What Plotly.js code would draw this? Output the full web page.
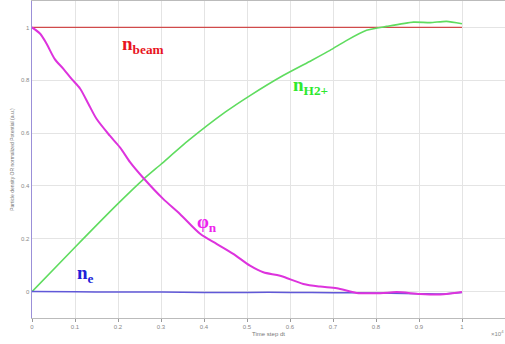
<!DOCTYPE html>
<html>
<head>
<meta charset="utf-8">
<script src="https://cdn.plot.ly/plotly-3.0.1.min.js"></script>
<style>html,body{margin:0;padding:0;background:#fff;}#chart{width:505px;height:344px;}</style>
</head>
<body>
<div id="chart"></div>
<script>
// Time step (x 10^4)
const beamX = [0, 1.0];
const beamY = [1.0, 1.0];

const h2X = [0, 0.1, 0.2, 0.259, 0.3, 0.364, 0.45, 0.507, 0.584, 0.65, 0.693, 0.732, 0.778, 0.825, 0.887, 0.926, 0.964, 1.0];
const h2Y = [0, 0.168, 0.333, 0.425, 0.482, 0.572, 0.68, 0.742, 0.818, 0.875, 0.913, 0.951, 0.989, 1.004, 1.02, 1.018, 1.023, 1.014];

const phiX = [0, 0.019, 0.034, 0.053, 0.073, 0.092, 0.112, 0.131, 0.15, 0.181, 0.205, 0.228, 0.259, 0.305, 0.344, 0.391, 0.43, 0.468, 0.507, 0.538, 0.577, 0.631, 0.67, 0.709, 0.755, 0.81, 0.848, 0.902, 0.949, 1.0];
const phiY = [1.0, 0.976, 0.938, 0.88, 0.843, 0.805, 0.768, 0.711, 0.654, 0.59, 0.545, 0.49, 0.43, 0.351, 0.294, 0.219, 0.18, 0.143, 0.098, 0.073, 0.06, 0.029, 0.019, 0.013, -0.005, -0.006, -0.002, -0.009, -0.011, -0.002];

const neX = [0, 0.1, 0.2, 0.3, 0.4, 0.5, 0.6, 0.7, 0.8, 0.9, 0.95, 1.0];
const neY = [0, -0.001, -0.002, -0.002, -0.003, -0.003, -0.003, -0.004, -0.005, -0.008, -0.009, -0.003];

const xTicks = [0, 0.1, 0.2, 0.3, 0.4, 0.5, 0.6, 0.7, 0.8, 0.9, 1, 1.1];
const xTickText = ['0', '0.1', '0.2', '0.3', '0.4', '0.5', '0.6', '0.7', '0.8', '0.9', '1', '1.1'];
const yTicks = [0, 0.2, 0.4, 0.6, 0.8, 1];
const yTickText = ['0', '0.2', '0.4', '0.6', '0.8', '1'];

const labels = [
  {text: 'n<sub>beam</sub>', x: 0.205, y: 0.935, color: '#e8141e'},
  {text: 'n<sub>H2+</sub>', x: 0.603, y: 0.78, color: '#2ee82e'},
  {text: '\u03c6<sub>n</sub>', x: 0.378, y: 0.26, color: '#ee22ee'},
  {text: 'n<sub>e</sub>', x: 0.1, y: 0.065, color: '#2020d8'}
];

const traces = [
  {x: beamX, y: beamY, mode: 'lines', line: {color: '#d04a4a', width: 1.2}},
  {x: h2X, y: h2Y, mode: 'lines', line: {color: '#5fdc5f', width: 1.6, shape: 'spline', smoothing: 0.6}},
  {x: neX, y: neY, mode: 'lines', line: {color: '#6058d8', width: 1.5, shape: 'spline'}},
  {x: phiX, y: phiY, mode: 'lines', line: {color: '#dd33dd', width: 2, shape: 'spline', smoothing: 0.8}}
];

const layout = {
  width: 505, height: 344,
  margin: {l: 32, r: 0, t: 1, b: 26},
  paper_bgcolor: '#ffffff', plot_bgcolor: '#ffffff',
  showlegend: false,
  font: {family: 'Liberation Sans, Arial, sans-serif', size: 6, color: '#777'},
  xaxis: {
    range: [0, 1.1], tickvals: xTicks, ticktext: xTickText,
    showgrid: true, gridcolor: '#e4e4e4', gridwidth: 1,
    zeroline: false, showline: true, linecolor: '#bbbbbb', mirror: true,
    ticks: 'outside', ticklen: 3, tickcolor: '#999',
    tickfont: {size: 6, color: '#888'},
    title: {text: 'Time step dt', font: {size: 6, color: '#777'}, standoff: 2}
  },
  yaxis: {
    range: [-0.1, 1.1], tickvals: yTicks, ticktext: yTickText,
    showgrid: true, gridcolor: '#e4e4e4', gridwidth: 1,
    zeroline: false, showline: true, linecolor: '#9b90d8', linewidth: 1.5, mirror: false,
    ticks: '', tickfont: {size: 6, color: '#888'},
    title: {text: 'Particle density OR normalized Potential (a.u.)', font: {size: 5, color: '#777'}, standoff: 6}
  },
  annotations: labels.map(l => ({
    text: l.text, x: l.x, y: l.y, xref: 'x', yref: 'y',
    xanchor: 'left', yanchor: 'middle', showarrow: false,
    font: {family: 'Liberation Serif, Times New Roman, serif', size: 19, color: l.color, weight: 'bold'}
  })).concat([{
    text: '\u00d710<sup>4</sup>', xref: 'paper', yref: 'paper', x: 0.985, y: -0.047,
    xanchor: 'center', yanchor: 'middle', showarrow: false, font: {size: 6, color: '#888'}
  }])
};

Plotly.newPlot('chart', traces, layout, {displayModeBar: false, staticPlot: true});
</script>
</body>
</html>
